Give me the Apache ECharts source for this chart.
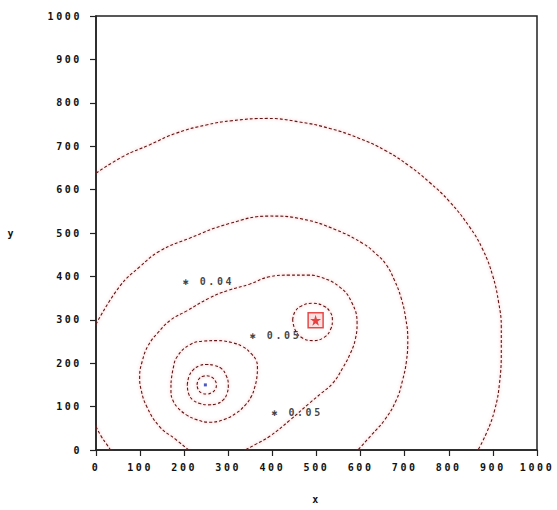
<!DOCTYPE html>
<html>
<head>
<meta charset="utf-8">
<script src="https://cdn.jsdelivr.net/npm/echarts@6/dist/echarts.min.js"></script>
<style>
  html, body { margin: 0; padding: 0; background: #fff; }
  #chart { width: 557px; height: 510px; }
  #chart svg text { letter-spacing: 2.6px; }
</style>
</head>
<body>
<div id="chart"></div>
<script>
// Contour lines, [x, y] in data units
const contourOuter = [[0,638],[61,676],[121,703],[182,730],[250,749],[310,759],[390,764],[461,756],[530,741],[597,718],[658,689],[711,654],[756,617],[802,572],[847,514],[877,462],[900,400],[913,340],[919,284],[919,230],[915,154],[904,92],[885,38],[866,0]];
const contourSecond = [[0,290],[53,376],[99,422],[144,458],[212,488],[303,522],[393,539],[469,532],[545,507],[605,476],[635,452],[658,427],[676,393],[692,350],[702,305],[707,255],[704,205],[695,160],[681,115],[655,70],[625,35],[594,0]];
const contourTeardrop = [[210,0],[180,25],[144,54],[115,100],[102,140],[99,169],[105,205],[118,240],[140,270],[170,300],[205,320],[257,350],[300,368],[348,382],[393,399],[439,403],[480,403],[507,399],[552,376],[580,340],[592,292],[588,255],[577,223],[560,190],[537,154],[510,130],[484,108],[440,69],[393,31],[360,12],[338,0]];
const ring1Large = [[170,154],[175,188],[184,215],[212,242],[245,251],[276,252],[310,247],[333,238],[352,222],[363,207],[366,190],[365,169],[360,145],[352,123],[338,103],[318,85],[290,70],[257,64],[228,70],[205,81],[186,97],[174,115],[170,135],[170,154]];
const ring1Mid = [[207,150],[211,170],[220,184],[234,194],[250,197],[268,195],[284,188],[295,172],[300,150],[297,130],[288,115],[272,106],[254,104],[236,107],[220,115],[210,130],[207,150]];
const ring1Small = [[229,150],[233,163],[243,170],[251,171],[262,168],[270,160],[273,150],[270,139],[262,132],[251,129],[240,131],[232,139],[229,150]];
const ring2 = [[446,300],[451,318],[466,332],[492,338],[516,332],[531,318],[536,300],[532,278],[518,260],[492,252],[468,258],[452,276],[446,300]];
const cornerArc = [[0,54],[12,31],[23,15],[33,0]];

// Sources
const sourceBlue = [[248,150]];
const sourceRed = [[498,299]];

// Text labels: [x, y, text]
const valueLabels = [[195,388,'\u2731 0.04'],[347,263,'\u2731 0.05'],[396,87,'\u2731 0.05']];

// Axes
const axisMin = 0, axisMax = 1000, axisStep = 100;
const xName = 'x', yName = 'y';

const font = '"DejaVu Sans Mono", "DejaVu Sans", monospace';
const lineStyle = {
  color: '#5e1414', width: 1.1, type: [3, 2],
  shadowColor: 'rgba(235,80,80,0.6)', shadowBlur: 3
};
const contours = [contourOuter, contourSecond, contourTeardrop, ring1Large, ring1Mid, ring1Small, ring2, cornerArc];

const series = contours.map(c => ({
  type: 'line', data: c, smooth: 0.45, symbol: 'none',
  lineStyle: lineStyle, silent: true, z: 2
}));
series.push({
  type: 'scatter', data: sourceBlue, symbol: 'rect', symbolSize: 3,
  itemStyle: { color: '#1f2fb0' }, z: 5
});
series.push({
  type: 'scatter', data: sourceRed, symbol: 'rect', symbolSize: 15,
  itemStyle: { color: 'rgba(255,190,190,0.6)', borderColor: '#e02020', borderWidth: 1.5 }, z: 5
});
series.push({
  type: 'scatter', data: sourceRed,
  symbol: 'path://M50,0 L61,35 L98,35 L68,57 L79,91 L50,70 L21,91 L32,57 L2,35 L39,35 Z',
  symbolSize: 11, itemStyle: { color: '#e01818' }, z: 6
});
series.push({
  type: 'scatter', data: valueLabels, symbolSize: 1,
  itemStyle: { color: 'rgba(0,0,0,0)' },
  label: {
    show: true, position: 'right', distance: 0,
    formatter: p => p.data[2],
    color: '#111', fontFamily: font, fontSize: 10, fontWeight: 'bold'
  }, z: 6
});

const axisCommon = {
  type: 'value', min: axisMin, max: axisMax, interval: axisStep,
  splitLine: { show: false },
  axisLine: { show: true, onZero: false, lineStyle: { color: '#222', width: 1.5 } },
  axisTick: { show: true, inside: false, length: 6, lineStyle: { color: '#222', width: 1.2 } },
  nameLocation: 'middle', nameRotate: 0,
  nameTextStyle: { color: '#111', fontFamily: font, fontSize: 10, fontWeight: 'bold' }
};
const labelStyle = { color: '#111', fontFamily: font, fontSize: 10, fontWeight: 'bold', formatter: v => String(v) };

const chart = echarts.init(document.getElementById('chart'), null, { renderer: 'svg' });
chart.setOption({
  backgroundColor: '#ffffff',
  animation: false,
  grid: { left: 96, right: 20, top: 16, bottom: 60, show: true, borderColor: '#222', borderWidth: 1.5, backgroundColor: 'transparent' },
  xAxis: Object.assign({}, axisCommon, {
    name: xName, nameGap: 44,
    axisLabel: Object.assign({ margin: 12 }, labelStyle)
  }),
  yAxis: Object.assign({}, axisCommon, {
    name: yName, nameGap: 80,
    axisLabel: Object.assign({ margin: 14 }, labelStyle)
  }),
  series: series
});
</script>
</body>
</html>
